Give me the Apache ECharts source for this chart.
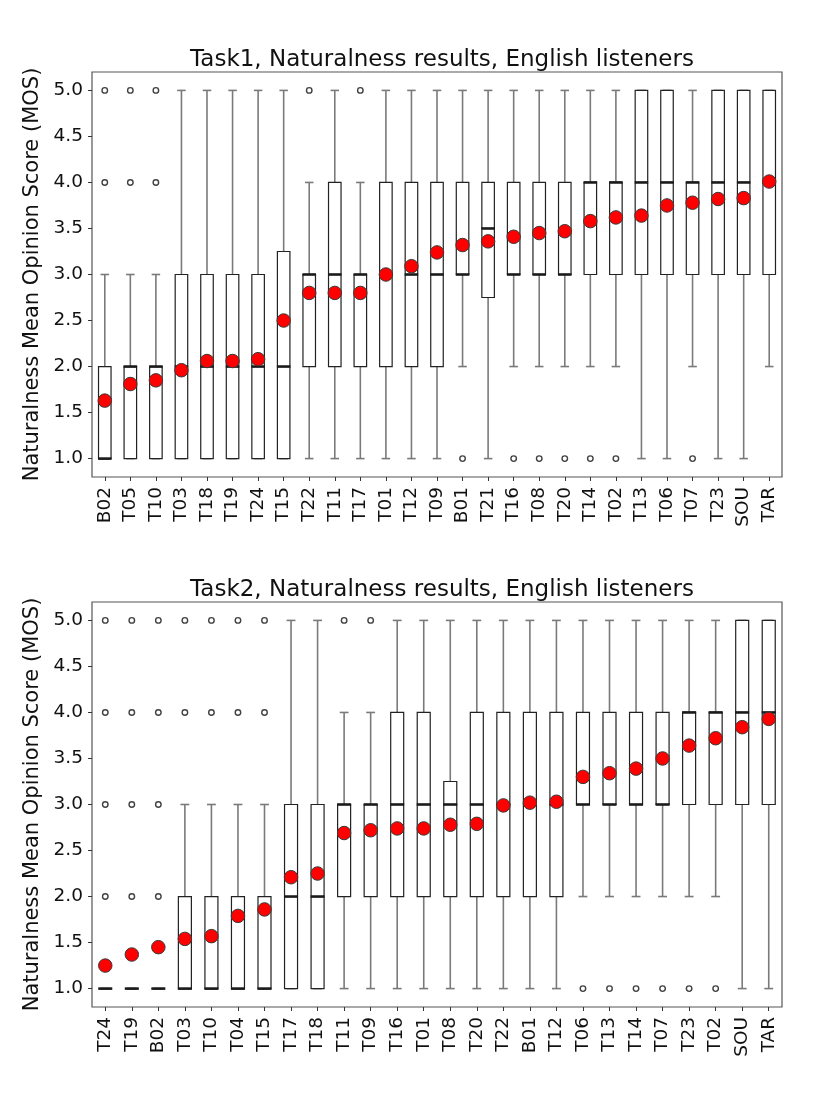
<!DOCTYPE html>
<html>
<head>
<meta charset="utf-8">
<script src="https://cdn.jsdelivr.net/npm/echarts@6/dist/echarts.min.js"></script>
<style>
html,body{margin:0;padding:0;background:#fff;}
#chart{width:830px;height:1107px;}
</style>
</head>
<body>
<div id="chart"></div>
<script>
// ---------- DATA ----------
const yTicks = [1.0, 1.5, 2.0, 2.5, 3.0, 3.5, 4.0, 4.5, 5.0];

const task1Title = 'Task1, Naturalness results, English listeners';
const task1Cats = ['B02','T05','T10','T03','T18','T19','T24','T15','T22','T11','T17','T01','T12','T09','B01','T21','T16','T08','T20','T14','T02','T13','T06','T07','T23','SOU','TAR'];
// [lower whisker, Q1, median, Q3, upper whisker]
const task1Boxes = [
  [1,1,1,2,3],[1,1,2,2,3],[1,1,2,2,3],[1,1,2,3,5],[1,1,2,3,5],[1,1,2,3,5],[1,1,2,3,5],[1,1,2,3.25,5],
  [1,2,3,3,4],[1,2,3,4,5],[1,2,3,3,4],[1,2,3,4,5],[1,2,3,4,5],[1,2,3,4,5],
  [2,3,3,4,5],[1,2.75,3.5,4,5],[2,3,3,4,5],[2,3,3,4,5],[2,3,3,4,5],[2,3,4,4,5],[2,3,4,4,5],
  [1,3,4,5,5],[1,3,4,5,5],[2,3,4,4,5],[1,3,4,5,5],[1,3,4,5,5],[2,3,4,5,5]
];
const task1Means = [1.63,1.81,1.85,1.96,2.06,2.06,2.08,2.50,2.80,2.80,2.80,3.00,3.09,3.24,3.32,3.36,3.41,3.45,3.47,3.58,3.62,3.64,3.75,3.78,3.82,3.83,4.01];
const task1Outliers = [
  ['B02',4],['B02',5],['T05',4],['T05',5],['T10',4],['T10',5],['T22',5],['T17',5],
  ['B01',1],['T16',1],['T08',1],['T20',1],['T14',1],['T02',1],['T07',1]
];

const task2Title = 'Task2, Naturalness results, English listeners';
const task2Cats = ['T24','T19','B02','T03','T10','T04','T15','T17','T18','T11','T09','T16','T01','T08','T20','T22','B01','T12','T06','T13','T14','T07','T23','T02','SOU','TAR'];
const task2Boxes = [
  [1,1,1,1,1],[1,1,1,1,1],[1,1,1,1,1],[1,1,1,2,3],[1,1,1,2,3],[1,1,1,2,3],[1,1,1,2,3],
  [1,1,2,3,5],[1,1,2,3,5],[1,2,3,3,4],[1,2,3,3,4],[1,2,3,4,5],[1,2,3,4,5],[1,2,3,3.25,5],
  [1,2,3,4,5],[1,2,3,4,5],[1,2,3,4,5],[1,2,3,4,5],
  [2,3,3,4,5],[2,3,3,4,5],[2,3,3,4,5],[2,3,3,4,5],[2,3,4,4,5],[2,3,4,4,5],[1,3,4,5,5],[1,3,4,5,5]
];
const task2Means = [1.25,1.37,1.45,1.54,1.57,1.79,1.86,2.21,2.25,2.69,2.72,2.74,2.74,2.78,2.79,2.99,3.02,3.03,3.30,3.34,3.39,3.50,3.64,3.72,3.84,3.93];
const task2Outliers = [
  ['T24',2],['T24',3],['T24',4],['T24',5],['T19',2],['T19',3],['T19',4],['T19',5],
  ['B02',2],['B02',3],['B02',4],['B02',5],['T03',4],['T03',5],['T10',4],['T10',5],
  ['T04',4],['T04',5],['T15',4],['T15',5],['T11',5],['T09',5],
  ['T06',1],['T13',1],['T14',1],['T07',1],['T23',1],['T02',1]
];

// ---------- CHART ----------
const FONT = 'DejaVu Sans';
const chart = echarts.init(document.getElementById('chart'), null, {renderer: 'canvas'});

function renderBox(params, api) {
  const i = api.value(0);
  const lo = api.coord([i, api.value(1)]);
  const q1 = api.coord([i, api.value(2)]);
  const md = api.coord([i, api.value(3)]);
  const q3 = api.coord([i, api.value(4)]);
  const hi = api.coord([i, api.value(5)]);
  const cx = lo[0];
  const bw = api.size([1, 0])[0] * 0.49;
  const cw = bw * 0.68;
  const wStyle = {stroke: '#7a7a7a', lineWidth: 1.6};
  return {
    type: 'group',
    children: [
      {type: 'line', shape: {x1: cx, y1: lo[1], x2: cx, y2: q1[1]}, style: wStyle},
      {type: 'line', shape: {x1: cx, y1: q3[1], x2: cx, y2: hi[1]}, style: wStyle},
      {type: 'line', shape: {x1: cx - cw / 2, y1: lo[1], x2: cx + cw / 2, y2: lo[1]}, style: wStyle},
      {type: 'line', shape: {x1: cx - cw / 2, y1: hi[1], x2: cx + cw / 2, y2: hi[1]}, style: wStyle},
      {type: 'rect', shape: {x: cx - bw / 2, y: q3[1], width: bw, height: q1[1] - q3[1]},
        style: {fill: '#fff', stroke: '#222', lineWidth: 1.2}},
      {type: 'line', shape: {x1: cx - bw / 2 - 0.5, y1: md[1], x2: cx + bw / 2 + 0.5, y2: md[1]},
        style: {stroke: '#1a1a1a', lineWidth: 2.6}}
    ]
  };
}

function makeAxes(gi, cats) {
  const x = {
    type: 'category', gridIndex: gi, data: cats, boundaryGap: true,
    axisLine: {show: false},
    axisTick: {show: true, alignWithLabel: true, length: 4, lineStyle: {color: '#333'}},
    axisLabel: {rotate: 90, interval: 0, fontSize: 18.5, fontFamily: FONT, color: '#111', margin: 10},
    splitLine: {show: false}
  };
  const y = {
    type: 'value', gridIndex: gi, min: 0.8, max: 5.2,
    axisLine: {show: false},
    axisTick: {show: true, length: 4, customValues: yTicks, lineStyle: {color: '#333'}},
    axisLabel: {fontSize: 18.5, fontFamily: FONT, color: '#111', margin: 9, customValues: yTicks,
      formatter: v => Number(v).toFixed(1)},
    splitLine: {show: false},
    name: 'Naturalness Mean Opinion Score (MOS)', nameLocation: 'middle', nameRotate: 90, nameGap: 44,
    nameTextStyle: {fontSize: 21, fontFamily: FONT, color: '#111'}
  };
  return {x, y};
}

function makeSeries(gi, cats, boxes, means, outliers) {
  return [
    {
      type: 'custom', xAxisIndex: gi, yAxisIndex: gi, renderItem: renderBox,
      encode: {x: 0, y: [1, 2, 3, 4, 5]},
      data: boxes.map((b, i) => [i].concat(b)), z: 2
    },
    {
      type: 'scatter', xAxisIndex: gi, yAxisIndex: gi, symbol: 'circle', symbolSize: 5.5,
      itemStyle: {color: 'rgba(255,255,255,0)', borderColor: '#111', borderWidth: 1.4},
      data: outliers, z: 3
    },
    {
      type: 'scatter', xAxisIndex: gi, yAxisIndex: gi, symbol: 'circle', symbolSize: 13.5,
      itemStyle: {color: '#ff0000', borderColor: '#3a3a3a', borderWidth: 1, opacity: 1},
      data: means, z: 4
    }
  ];
}

const a1 = makeAxes(0, task1Cats);
const a2 = makeAxes(1, task2Cats);

chart.setOption({
  animation: false,
  backgroundColor: '#fff',
  title: [
    {text: task1Title, left: 437, top: 44, textAlign: 'center',
      textStyle: {fontSize: 23, fontWeight: 'normal', fontFamily: FONT, color: '#111'}},
    {text: task2Title, left: 437, top: 574, textAlign: 'center',
      textStyle: {fontSize: 23, fontWeight: 'normal', fontFamily: FONT, color: '#111'}}
  ],
  grid: [
    {left: 92, top: 72, width: 690, height: 405, show: true, borderColor: '#555', borderWidth: 1.2, backgroundColor: 'transparent'},
    {left: 92, top: 602, width: 690, height: 405, show: true, borderColor: '#555', borderWidth: 1.2, backgroundColor: 'transparent'}
  ],
  xAxis: [a1.x, a2.x],
  yAxis: [a1.y, a2.y],
  series: [].concat(
    makeSeries(0, task1Cats, task1Boxes, task1Means, task1Outliers),
    makeSeries(1, task2Cats, task2Boxes, task2Means, task2Outliers)
  )
});
</script>
</body>
</html>
